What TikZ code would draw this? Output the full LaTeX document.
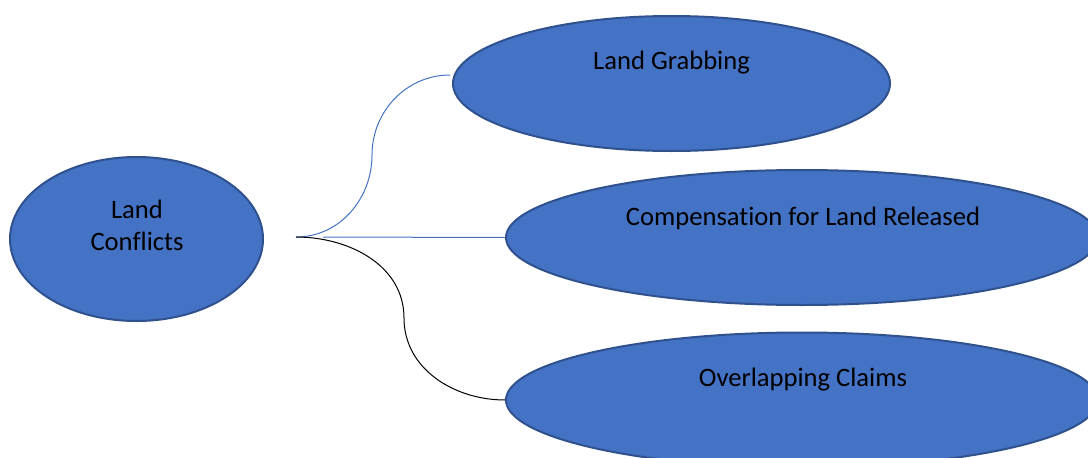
\documentclass[tikz,border=0pt]{standalone}
\usepackage{fontspec}
\setmainfont{Carlito}[RawFeature={-liga;-clig;-calt;-dlig}]
\usepackage{tikz}
\usetikzlibrary{shapes.geometric}
\usepackage{xcolor}
\definecolor{offblue}{HTML}{4472C4}
\definecolor{offedge}{HTML}{2F528F}

\begin{document}
\begin{tikzpicture}[x=1pt, y=-1pt,
		bubble/.style={draw=offedge, line width=2pt, fill=offblue, ellipse, inner sep=0pt},
		txt/.style={font=\fontsize{26.6pt}{32pt}\selectfont, align=center}]
		\clip (0,0) rectangle (1088,458);
		\useasboundingbox (0,0) rectangle (1088,458);
		\node[bubble, minimum width=253pt, minimum height=164pt] (lc) at (136.5,239) {};
		\node[bubble, minimum width=437pt, minimum height=135pt] (lg) at (671.5,83.5) {};
		\node[bubble, minimum width=592pt, minimum height=135pt] (cl) at (802,237.5) {};
		\node[bubble, minimum width=592pt, minimum height=135pt] (oc) at (802,400) {};
		
		\node[txt] (lct) at (137,225) {Land\\Conflicts};
		\node[txt] (lgt) at (671.5,63) {Land Grabbing};
		\node[txt] (clt) at (803,218) {Compensat\kern0pt ion for Land Released};
		\node[txt] (oct) at (803,380) {Overlapping Claims};
		
		\coordinate (hub) at (296,237);
		\coordinate (hub2) at (323,237);
		\coordinate (lgend) at (450,75);
		
		\draw[offblue, line width=1pt] (hub) to[out=0, in=270] (372,155) to[out=90, in=180] (lgend);
		\draw[offblue, line width=1pt] (hub2) -- (cl.west);
		\draw[black, line width=1pt] (hub) to[out=0, in=90] (404,318) to[out=270, in=180] (oc.west);
	\end{tikzpicture}
\end{document}
